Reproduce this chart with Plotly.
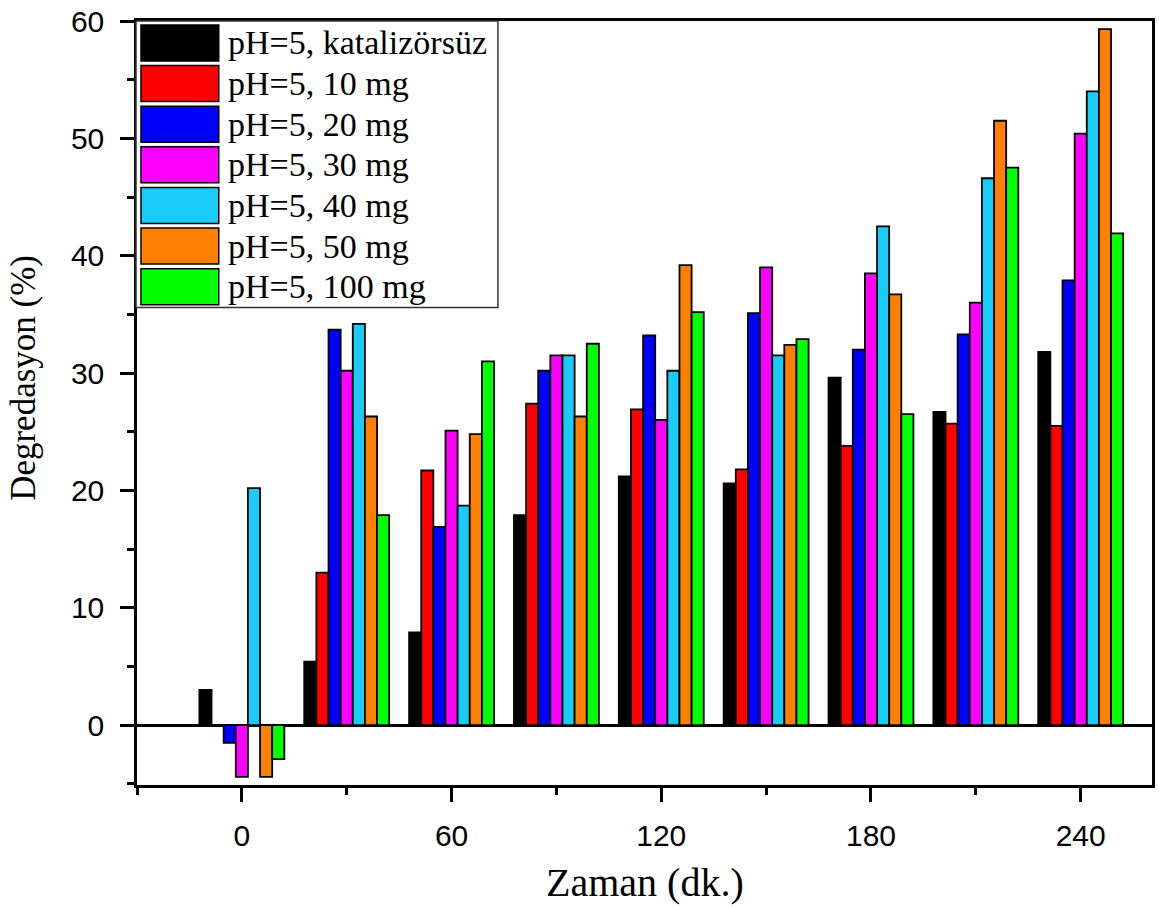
import plotly.graph_objects as go

# Reaction time (min) and degradation (%) for each catalyst loading at pH=5
times = [0, 30, 60, 90, 120, 150, 180, 210, 240]
series_names = [
    "pH=5, katalizörsüz",
    "pH=5, 10 mg",
    "pH=5, 20 mg",
    "pH=5, 30 mg",
    "pH=5, 40 mg",
    "pH=5, 50 mg",
    "pH=5, 100 mg",
]
katalizorsuz = [3.0, 5.4, 7.9, 17.9, 21.2, 20.6, 29.6, 26.7, 31.8]
mg10 = [0.0, 13.0, 21.7, 27.4, 26.9, 21.8, 23.8, 25.7, 25.5]
mg20 = [-1.5, 33.7, 16.9, 30.2, 33.2, 35.1, 32.0, 33.3, 37.9]
mg30 = [-4.4, 30.2, 25.1, 31.5, 26.0, 39.0, 38.5, 36.0, 50.4]
mg40 = [20.2, 34.2, 18.7, 31.5, 30.2, 31.5, 42.5, 46.6, 54.0]
mg50 = [-4.4, 26.3, 24.8, 26.3, 39.2, 32.4, 36.7, 51.5, 59.3]
mg100 = [-2.9, 17.9, 31.0, 32.5, 35.2, 32.9, 26.5, 47.5, 41.9]
colors = ["#000000", "#FF0000", "#0000FF", "#FF00FF", "#19CCF8", "#FF8000", "#00FF00"]

all_series = [katalizorsuz, mg10, mg20, mg30, mg40, mg50, mg100]

W, H = 1159, 907
ML, MR, MT, MB = 137, 4, 20, 122
PW, PH = W - ML - MR, H - MT - MB

SERIF = "Liberation Serif, Times New Roman, serif"
SANS = "Liberation Sans, Arial, sans-serif"


def px_x(px):
    return (px - ML) / PW


def px_y(py):
    return (H - MB - py) / PH


fig = go.Figure()
for name, vals, col in zip(series_names, all_series, colors):
    fig.add_trace(go.Bar(
        x=times, y=vals, name=name,
        marker=dict(color=col, line=dict(color="#000000", width=1.8)),
        showlegend=False,
    ))

# Legend box drawn with large colour swatches
shapes = [dict(
    type="rect", xref="paper", yref="paper", layer="above",
    x0=px_x(136), x1=px_x(499), y0=px_y(307), y1=px_y(20),
    fillcolor="white", line=dict(color="#333333", width=1.5),
)]
annotations = []
row_pitch = 40.67
for i, (name, col) in enumerate(zip(series_names, colors)):
    top = 24 + i * row_pitch
    shapes.append(dict(
        type="rect", xref="paper", yref="paper", layer="above",
        x0=px_x(141), x1=px_x(219), y0=px_y(top + 36), y1=px_y(top),
        fillcolor=col, line=dict(color="#000000", width=1.5),
    ))
    annotations.append(dict(
        xref="paper", yref="paper", x=px_x(226), y=px_y(top + 18),
        xanchor="left", yanchor="middle", showarrow=False, text=name,
        font=dict(family=SERIF, size=34, color="#000000"),
    ))

# Axis titles
annotations.append(dict(
    xref="paper", yref="paper", x=px_x(23), y=px_y(377),
    xanchor="center", yanchor="middle", showarrow=False, textangle=-90,
    text="Degredasyon (%)", font=dict(family=SERIF, size=35, color="#000000"),
))
annotations.append(dict(
    xref="paper", yref="paper", x=0.5, y=px_y(883),
    xanchor="center", yanchor="middle", showarrow=False,
    text="Zaman (dk.)", font=dict(family=SERIF, size=40, color="#000000"),
))

fig.update_layout(
    width=W, height=H,
    margin=dict(l=ML, r=MR, t=MT, b=MB, pad=0),
    paper_bgcolor="white", plot_bgcolor="white",
    barmode="group", bargap=0.19, bargroupgap=0,
    shapes=shapes, annotations=annotations,
    showlegend=False,
)
fig.update_xaxes(
    range=[-30, 260.4], tickmode="array", tickvals=[0, 60, 120, 180, 240],
    ticks="outside", ticklen=14, tickwidth=2.5, tickcolor="#000000",
    minor=dict(tickmode="array", tickvals=[-30, 30, 90, 150, 210],
               ticks="outside", ticklen=7, tickwidth=2.5, tickcolor="#000000"),
    showline=True, linecolor="#000000", linewidth=2.5, mirror=True,
    showgrid=False, zeroline=False,
    tickfont=dict(family=SANS, size=30, color="#000000"),
    ticklabelstandoff=8,
)
fig.update_yaxes(
    range=[-5.1, 60], tickmode="array", tickvals=[0, 10, 20, 30, 40, 50, 60],
    ticks="outside", ticklen=14, tickwidth=2.5, tickcolor="#000000",
    minor=dict(tickmode="array", tickvals=[-5, 5, 15, 25, 35, 45, 55],
               ticks="outside", ticklen=7, tickwidth=2.5, tickcolor="#000000"),
    showline=True, linecolor="#000000", linewidth=2.5, mirror=True,
    showgrid=False, zeroline=True, zerolinecolor="#000000", zerolinewidth=2.5,
    tickfont=dict(family=SANS, size=30, color="#000000"),
    ticklabelstandoff=10,
)

fig.write_html("out.html")
